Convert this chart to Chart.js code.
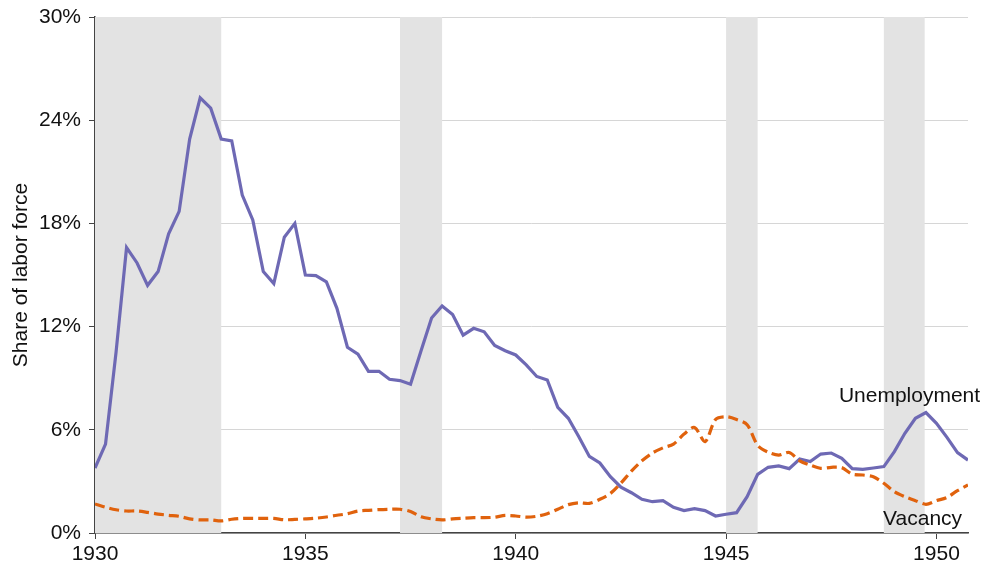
<!DOCTYPE html>
<html>
<head>
<meta charset="utf-8">
<script src="https://cdn.jsdelivr.net/npm/chart.js@4.4.1/dist/chart.umd.min.js"></script>
<style>
  html, body { margin: 0; padding: 0; background: #fff; }
  #chart { display: block; }
</style>
</head>
<body>
<canvas id="chart" width="987" height="572"></canvas>
<script>
// quarterly observations, 1930Q1 .. 1950Q4
const startYear = 1930;
const unemployment = [
  3.78, 5.17, 10.5, 16.6, 15.7, 14.4, 15.2, 17.4, 18.7, 22.9,
  25.3, 24.7, 22.9, 22.8, 19.65, 18.2, 15.2, 14.5, 17.2, 18.0,
  15.0, 14.96, 14.6, 13.06, 10.8, 10.4, 9.4, 9.4, 8.94, 8.86,
  8.65, 10.6, 12.5, 13.2, 12.7, 11.5, 11.9, 11.7, 10.9, 10.6,
  10.35, 9.77, 9.1, 8.9, 7.3, 6.67, 5.6, 4.45, 4.07, 3.27,
  2.66, 2.34, 1.96, 1.82, 1.88, 1.49, 1.30, 1.41, 1.30, 0.99,
  1.09, 1.18, 2.11, 3.41, 3.82, 3.9, 3.74, 4.3, 4.15, 4.59,
  4.65, 4.34, 3.74, 3.7, 3.78, 3.86, 4.73, 5.8, 6.67, 7.0,
  6.38, 5.56, 4.67, 4.24
];
const vacancy = [
  1.69, 1.5, 1.35, 1.28, 1.28, 1.2, 1.1, 1.03, 0.97, 0.82,
  0.76, 0.76, 0.70, 0.80, 0.85, 0.85, 0.85, 0.85, 0.77, 0.79,
  0.82, 0.86, 0.93, 1.03, 1.12, 1.28, 1.32, 1.36, 1.38, 1.38,
  1.25, 0.95, 0.82, 0.76, 0.82, 0.86, 0.89, 0.89, 0.92, 1.02,
  0.99, 0.92, 0.97, 1.12, 1.38, 1.65, 1.76, 1.72, 1.96, 2.3,
  2.9, 3.6, 4.2, 4.65, 4.95, 5.17, 5.75, 6.14, 5.31, 6.6,
  6.76, 6.6, 6.3, 5.1, 4.7, 4.53, 4.68, 4.2, 3.95, 3.76,
  3.82, 3.8, 3.42, 3.37, 3.27, 2.89, 2.4, 2.11, 1.88, 1.67,
  1.88, 2.07, 2.46, 2.79
];
// recession periods (start, end) in fractional years
const recessionStart = [1929.6, 1937.25, 1945.0, 1948.75];
const recessionEnd   = [1933.0, 1938.25, 1945.75, 1949.72];
const yearTicks = [1930, 1935, 1940, 1945, 1950];
const seriesLabels = [
  { text: 'Unemployment', x: 1949.36, y: 7.95 },
  { text: 'Vacancy', x: 1949.67, y: 0.8 }
];

const quarters = unemployment.map((_, i) => startYear + i * 0.25);
const toPoints = arr => arr.map((v, i) => ({ x: quarters[i], y: v }));

const fontFamily = '"Liberation Sans", Arial, Helvetica, sans-serif';

const recessionBands = {
  id: 'recessionBands',
  beforeDatasetsDraw(chart) {
    const { ctx, chartArea, scales } = chart;
    ctx.save();
    ctx.fillStyle = '#e3e3e3';
    for (let i = 0; i < recessionStart.length; i++) {
      let x0 = scales.x.getPixelForValue(recessionStart[i]);
      let x1 = scales.x.getPixelForValue(recessionEnd[i]);
      x0 = Math.max(x0, chartArea.left);
      x1 = Math.min(x1, chartArea.right);
      ctx.fillRect(x0, chartArea.top, x1 - x0, chartArea.bottom - chartArea.top);
    }
    ctx.restore();
  }
};

const lineLabels = {
  id: 'lineLabels',
  afterDatasetsDraw(chart) {
    const { ctx, scales } = chart;
    ctx.save();
    ctx.font = '21px ' + fontFamily;
    ctx.fillStyle = '#111';
    ctx.textAlign = 'center';
    ctx.textBaseline = 'middle';
    seriesLabels.forEach(l => {
      ctx.fillText(l.text, scales.x.getPixelForValue(l.x), scales.y.getPixelForValue(l.y));
    });
    ctx.restore();
  }
};

new Chart(document.getElementById('chart'), {
  type: 'line',
  data: {
    datasets: [{
      label: 'Unemployment',
      data: toPoints(unemployment),
      borderColor: '#6e69b4',
      borderWidth: 3.2,
      pointRadius: 0,
      tension: 0,
      order: 1
    }, {
      label: 'Vacancy',
      data: toPoints(vacancy),
      borderColor: '#e0620d',
      borderWidth: 3.2,
      borderDash: [10, 5],
      pointRadius: 0,
      tension: 0.3,
      order: 0
    }]
  },
  options: {
    responsive: false,
    animation: false,
    layout: { padding: { top: 17, right: 19, left: 0, bottom: 0 } },
    plugins: {
      legend: { display: false },
      tooltip: { enabled: false }
    },
    scales: {
      x: {
        type: 'linear',
        min: 1930,
        max: 1950.75,
        afterBuildTicks: axis => { axis.ticks = yearTicks.map(v => ({ value: v })); },
        afterFit: axis => { axis.height = 39; axis.paddingLeft = 0; axis.paddingRight = 0; },
        ticks: {
          color: '#111',
          font: { family: fontFamily, size: 21 },
          padding: 3,
          maxRotation: 0,
          callback: v => String(v)
        },
        grid: {
          drawOnChartArea: false,
          drawTicks: true,
          tickLength: 6,
          tickColor: '#444'
        },
        border: { color: '#444', width: 1.5 }
      },
      y: {
        min: 0,
        max: 30,
        afterFit: axis => { axis.width = 95; axis.paddingTop = 0; axis.paddingBottom = 0; },
        ticks: {
          stepSize: 6,
          color: '#111',
          font: { family: fontFamily, size: 21 },
          padding: 8,
          callback: v => v + '%'
        },
        grid: {
          color: '#d6d6d6',
          lineWidth: 1,
          drawTicks: true,
          tickLength: 6,
          tickColor: '#444'
        },
        border: { color: '#444', width: 1.5 },
        title: {
          display: true,
          text: 'Share of labor force',
          color: '#111',
          font: { family: fontFamily, size: 21 },
          padding: { top: 9, bottom: 2 }
        }
      }
    }
  },
  plugins: [recessionBands, lineLabels]
});
</script>
</body>
</html>
